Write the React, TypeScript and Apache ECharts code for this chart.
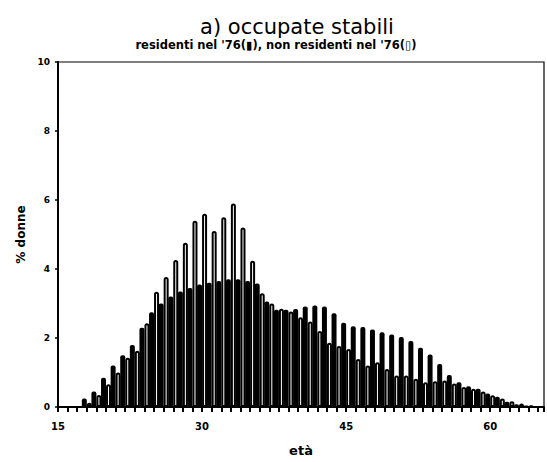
import React, { useEffect, useRef } from "react";
import * as echarts from "echarts";

const ages = [15, 16, 17, 18, 19, 20, 21, 22, 23, 24, 25, 26, 27, 28, 29, 30, 31, 32, 33, 34, 35, 36, 37, 38, 39, 40, 41, 42, 43, 44, 45, 46, 47, 48, 49, 50, 51, 52, 53, 54, 55, 56, 57, 58, 59, 60, 61, 62, 63, 64, 65];

// residenti nel '76 (filled bars)
const residenti = [
  0, 0, 0, 0.25, 0.45, 0.85, 1.2, 1.5, 1.8, 2.3,
  2.75, 3.0, 3.2, 3.35, 3.45, 3.55, 3.6, 3.65, 3.7, 3.7,
  3.65, 3.58, 3.06, 2.82, 2.82, 2.84, 2.91, 2.94, 2.91, 2.72,
  2.44, 2.34, 2.32, 2.25, 2.17, 2.1, 2.03, 1.91, 1.72, 1.52,
  1.25, 0.93, 0.72, 0.6, 0.53, 0.39, 0.3, 0.15, 0.08, 0.04,
  0,
];

// non residenti nel '76 (hollow bars)
const nonResidenti = [
  0, 0, 0, 0.12, 0.35, 0.66, 1.0, 1.43, 1.63, 2.43,
  3.34, 3.77, 4.26, 4.76, 5.4, 5.6, 5.1, 5.5, 5.9, 5.2,
  4.24, 3.3, 3.0, 2.85, 2.77, 2.6, 2.48, 2.2, 1.86, 1.77,
  1.68, 1.39, 1.2, 1.3, 1.1, 0.91, 0.91, 0.82, 0.72, 0.75,
  0.77, 0.68, 0.58, 0.53, 0.45, 0.34, 0.25, 0.17, 0.1, 0.05,
  0,
];

const xLabels = [15, 30, 45, 60];
const yTicks = [0, 2, 4, 6, 8, 10];

const titleText = "a) occupate stabili";
const subtitleText = "residenti nel '76(\u25AE), non residenti nel '76(\u25AF)";

export default function App() {
  const ref = useRef<HTMLDivElement>(null);

  useEffect(() => {
    document.body.style.margin = "0";
    const chart = echarts.init(ref.current!, null, { renderer: "svg" });
    const toPairs = (vals: number[]) =>
      ages.map((a, i) => [a, vals[i] > 0 ? vals[i] : null]);

    chart.setOption({
      animation: false,
      backgroundColor: "#ffffff",
      title: [
        {
          text: titleText,
          left: 292,
          top: 11,
          textAlign: "center",
          textStyle: {
            fontFamily: "DejaVu Sans",
            fontWeight: "normal",
            fontSize: 21,
            color: "#000",
          },
        },
        {
          text: subtitleText,
          left: 271,
          top: 34,
          textAlign: "center",
          textStyle: {
            fontFamily: "DejaVu Sans",
            fontWeight: "bold",
            fontSize: 11.5,
            color: "#000",
          },
        },
      ],
      grid: {
        left: 58,
        top: 62,
        right: 2,
        bottom: 50,
        show: true,
        borderColor: "#000",
        borderWidth: 1.2,
        backgroundColor: "transparent",
      },
      xAxis: {
        type: "value",
        min: 15,
        max: 65.6,
        interval: 1,
        name: "età",
        nameLocation: "middle",
        nameGap: 37,
        nameTextStyle: {
          fontFamily: "DejaVu Sans",
          fontWeight: "bold",
          fontSize: 13,
          color: "#000",
        },
        axisLine: { show: true, lineStyle: { color: "#000", width: 2 } },
        axisTick: { show: true, length: 5, lineStyle: { color: "#000", width: 2 } },
        axisLabel: {
          margin: 14,
          fontFamily: "DejaVu Sans",
          fontWeight: "bold",
          fontSize: 10,
          color: "#000",
          formatter: (v: number) => (xLabels.indexOf(v) >= 0 ? String(v) : ""),
        },
        splitLine: { show: false },
      },
      yAxis: {
        type: "value",
        min: yTicks[0],
        max: yTicks[yTicks.length - 1],
        interval: 2,
        name: "% donne",
        nameLocation: "middle",
        nameGap: 30,
        nameTextStyle: {
          fontFamily: "DejaVu Sans",
          fontWeight: "bold",
          fontSize: 12,
          color: "#000",
        },
        axisLine: { show: true, lineStyle: { color: "#000", width: 2 } },
        axisTick: { show: true, length: 3, lineStyle: { color: "#000", width: 1.5 } },
        axisLabel: {
          margin: 8,
          fontFamily: "DejaVu Sans",
          fontWeight: "bold",
          fontSize: 9,
          color: "#000",
        },
        splitLine: { show: false },
      },
      series: [
        {
          name: "residenti nel '76",
          type: "bar",
          data: toPairs(residenti),
          barWidth: 5,
          barGap: "0%",
          itemStyle: { color: "#000", borderRadius: [2, 2, 0, 0] },
        },
        {
          name: "non residenti nel '76",
          type: "bar",
          data: toPairs(nonResidenti),
          barWidth: 5,
          barGap: "0%",
          itemStyle: {
            color: "#fff",
            borderColor: "#000",
            borderWidth: 2,
            borderRadius: [2, 2, 0, 0],
          },
        },
      ],
    });
    return () => chart.dispose();
  }, []);

  return (
    <div
      ref={ref}
      style={{ position: "absolute", left: 0, top: 0, width: 547, height: 462 }}
    />
  );
}
